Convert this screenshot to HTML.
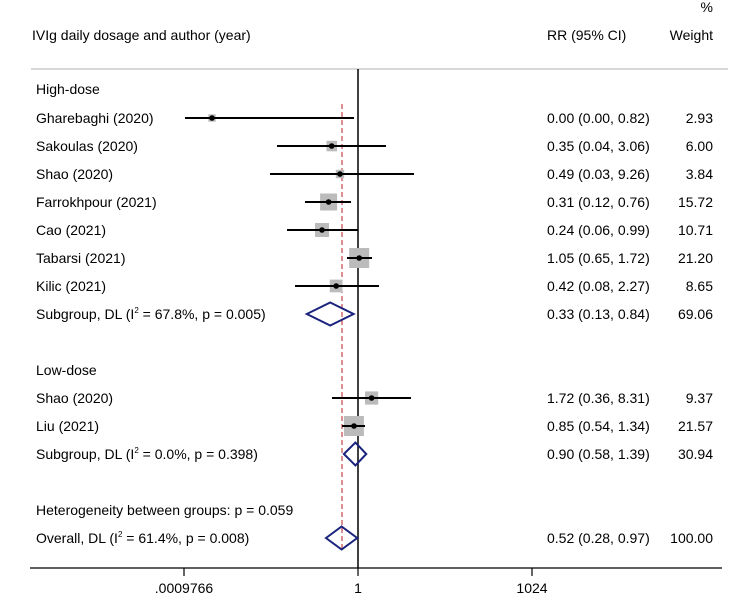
<!DOCTYPE html>
<html><head><style>body{margin:0;background:#fff}svg{display:block}text{font-family:"Liberation Sans",Arial,sans-serif;font-size:14px;fill:#000}</style></head>
<body>
<svg width="745" height="608" viewBox="0 0 745 608" xmlns="http://www.w3.org/2000/svg">
<rect width="745" height="608" fill="#fff"/>
<text x="713" y="12" text-anchor="end">%</text>
<text x="32" y="40">IVIg daily dosage and author (year)</text>
<text x="547" y="40">RR (95% CI)</text>
<text x="713" y="40" text-anchor="end">Weight</text>
<line x1="31" y1="69" x2="728" y2="69" stroke="#ccc" stroke-width="1.5"/>
<line x1="358" y1="69" x2="358" y2="568" stroke="#000" stroke-width="1.5"/>
<line x1="342" y1="104" x2="342" y2="552" stroke="#b22" stroke-width="1" stroke-dasharray="5,3"/>
<line x1="30" y1="568" x2="722" y2="568" stroke="#000" stroke-width="1.2"/>
<g stroke="#000" stroke-width="1.2"><line x1="184" y1="568" x2="184" y2="576"/><line x1="358" y1="568" x2="358" y2="576"/><line x1="532" y1="568" x2="532" y2="576"/></g>
<text x="184" y="593" text-anchor="middle">.0009766</text>
<text x="358" y="593" text-anchor="middle">1</text>
<text x="532" y="593" text-anchor="middle">1024</text>
<g>
<text x="36" y="94">High-dose</text>
<text x="36" y="123">Gharebaghi (2020)</text><text x="547" y="123">0.00 (0.00, 0.82)</text><text x="713" y="123" text-anchor="end">2.93</text>
<text x="36" y="151">Sakoulas (2020)</text><text x="547" y="151">0.35 (0.04, 3.06)</text><text x="713" y="151" text-anchor="end">6.00</text>
<text x="36" y="179">Shao (2020)</text><text x="547" y="179">0.49 (0.03, 9.26)</text><text x="713" y="179" text-anchor="end">3.84</text>
<text x="36" y="207">Farrokhpour (2021)</text><text x="547" y="207">0.31 (0.12, 0.76)</text><text x="713" y="207" text-anchor="end">15.72</text>
<text x="36" y="235">Cao (2021)</text><text x="547" y="235">0.24 (0.06, 0.99)</text><text x="713" y="235" text-anchor="end">10.71</text>
<text x="36" y="263">Tabarsi (2021)</text><text x="547" y="263">1.05 (0.65, 1.72)</text><text x="713" y="263" text-anchor="end">21.20</text>
<text x="36" y="291">Kilic (2021)</text><text x="547" y="291">0.42 (0.08, 2.27)</text><text x="713" y="291" text-anchor="end">8.65</text>
<text x="36" y="319">Subgroup, DL (I<tspan font-size="8" dy="-6">2</tspan><tspan dy="6"> = 67.8%, p = 0.005)</tspan></text><text x="547" y="319">0.33 (0.13, 0.84)</text><text x="713" y="319" text-anchor="end">69.06</text>
<text x="36" y="375">Low-dose</text>
<text x="36" y="403">Shao (2020)</text><text x="547" y="403">1.72 (0.36, 8.31)</text><text x="713" y="403" text-anchor="end">9.37</text>
<text x="36" y="431">Liu (2021)</text><text x="547" y="431">0.85 (0.54, 1.34)</text><text x="713" y="431" text-anchor="end">21.57</text>
<text x="36" y="459">Subgroup, DL (I<tspan font-size="8" dy="-6">2</tspan><tspan dy="6"> = 0.0%, p = 0.398)</tspan></text><text x="547" y="459">0.90 (0.58, 1.39)</text><text x="713" y="459" text-anchor="end">30.94</text>
<text x="36" y="515">Heterogeneity between groups: p = 0.059</text>
<text x="36" y="543">Overall, DL (I<tspan font-size="8" dy="-6">2</tspan><tspan dy="6"> = 61.4%, p = 0.008)</tspan></text><text x="547" y="543">0.52 (0.28, 0.97)</text><text x="713" y="543" text-anchor="end">100.00</text>
</g>
<g fill="#bbb">
<rect x="208.3" y="114.3" width="7.4" height="7.4"/>
<rect x="326.5" y="140.8" width="10.5" height="10.5"/>
<rect x="335.8" y="169.8" width="8.4" height="8.4"/>
<rect x="320.1" y="193.5" width="17" height="17"/>
<rect x="315" y="223" width="14" height="14"/>
<rect x="349.2" y="248" width="20" height="20"/>
<rect x="329.8" y="279.6" width="12.7" height="12.7"/>
<rect x="365" y="391.4" width="13.2" height="13.2"/>
<rect x="343.9" y="416" width="20" height="20"/>
</g>
<g stroke="#000" stroke-width="2">
<line x1="185" y1="118" x2="354" y2="118"/>
<line x1="277" y1="146" x2="386" y2="146"/>
<line x1="270" y1="174" x2="414" y2="174"/>
<line x1="305" y1="202" x2="351" y2="202"/>
<line x1="287" y1="230" x2="358" y2="230"/>
<line x1="347" y1="258" x2="372" y2="258"/>
<line x1="295" y1="286" x2="379" y2="286"/>
<line x1="332" y1="398" x2="411" y2="398"/>
<line x1="342" y1="426" x2="365" y2="426"/>
</g>
<g fill="#000">
<circle cx="212" cy="118" r="2.8"/><circle cx="331.7" cy="146" r="2.8"/><circle cx="340" cy="174" r="2.8"/>
<circle cx="328.6" cy="202" r="2.8"/><circle cx="322" cy="230" r="2.8"/><circle cx="359.2" cy="258" r="2.8"/>
<circle cx="336.2" cy="286" r="2.8"/><circle cx="371.6" cy="398" r="2.8"/><circle cx="354" cy="426" r="2.8"/>
</g>
<g fill="none" stroke="#1a237e" stroke-width="2">
<polygon points="306.8,314 330.2,302.5 353.6,314 330.2,325.5"/>
<polygon points="343.9,454 355.4,442.5 366.3,454 355.4,465.5"/>
<polygon points="326,538 341.6,526.5 357.2,538 341.6,549.5"/>
</g>
</svg>
</body></html>
